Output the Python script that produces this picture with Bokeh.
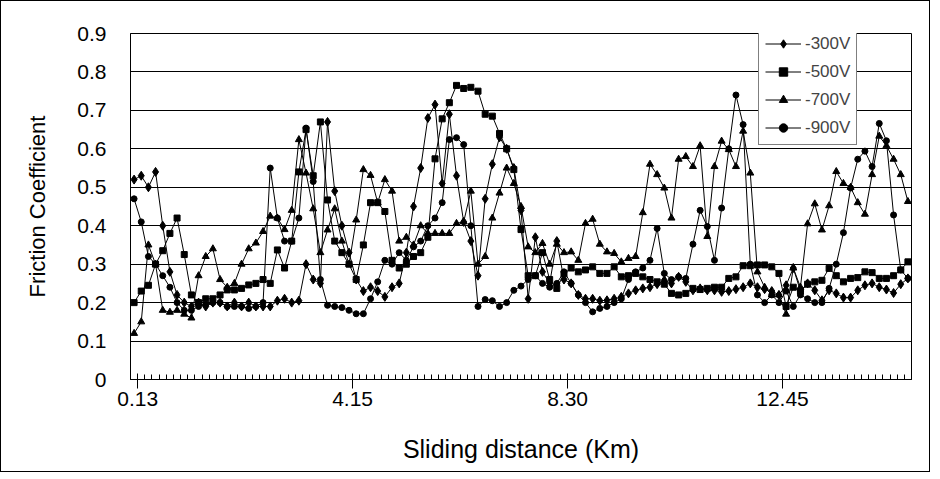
from bokeh.plotting import figure
from bokeh.models import Range1d, FixedTicker, Legend, LegendItem
from bokeh.embed import file_html
from bokeh.resources import INLINE

# ---- data (friction coefficient per sliding-distance step) ----
s300 = [0.52, 0.53, 0.50, 0.54, 0.40, 0.28, 0.22, 0.20, 0.19, 0.20,
        0.19, 0.20, 0.20, 0.19, 0.20, 0.19, 0.20, 0.19, 0.19, 0.19,
        0.205, 0.21, 0.20, 0.205, 0.30, 0.26, 0.25, 0.67, 0.49, 0.40,
        0.33, 0.26, 0.23, 0.24, 0.23, 0.215, 0.24, 0.25, 0.33, 0.45,
        0.55, 0.68, 0.715, 0.51, 0.69, 0.53, 0.41, 0.36, 0.27, 0.47,
        0.56, 0.63, 0.60, 0.55, 0.44, 0.21, 0.37, 0.28, 0.25, 0.36,
        0.26, 0.25, 0.22, 0.21, 0.21, 0.205, 0.206, 0.21, 0.215, 0.224,
        0.232, 0.237, 0.24, 0.248, 0.258, 0.25, 0.267, 0.254, 0.232, 0.237,
        0.232, 0.232, 0.228, 0.23, 0.235, 0.24, 0.25, 0.24, 0.235, 0.23,
        0.22, 0.245, 0.29, 0.23, 0.25, 0.232, 0.206, 0.232, 0.224, 0.213,
        0.213, 0.232, 0.245, 0.25, 0.24, 0.234, 0.225, 0.248, 0.263]

s500 = [0.20, 0.23, 0.245, 0.30, 0.335, 0.38, 0.42, 0.325, 0.22, 0.20,
        0.21, 0.21, 0.22, 0.233, 0.233, 0.237, 0.246, 0.25, 0.26, 0.25,
        0.337, 0.29, 0.36, 0.54, 0.65, 0.53, 0.67, 0.467, 0.36, 0.33,
        0.30, 0.26, 0.35, 0.46, 0.46, 0.437, 0.31, 0.29, 0.30, 0.32,
        0.33, 0.37, 0.574, 0.678, 0.72, 0.765, 0.757, 0.76, 0.75, 0.69,
        0.685, 0.64, 0.60, 0.546, 0.39, 0.27, 0.27, 0.33, 0.26, 0.237,
        0.275, 0.29, 0.28, 0.285, 0.293, 0.276, 0.276, 0.293, 0.267, 0.27,
        0.276, 0.267, 0.26, 0.254, 0.248, 0.224, 0.22, 0.224, 0.237, 0.234,
        0.237, 0.24, 0.24, 0.263, 0.267, 0.296, 0.296, 0.298, 0.298, 0.293,
        0.276, 0.19, 0.24, 0.23, 0.248, 0.254, 0.258, 0.289, 0.27, 0.254,
        0.263, 0.265, 0.28, 0.278, 0.263, 0.263, 0.27, 0.285, 0.306]

s700 = [0.12, 0.15, 0.35, 0.30, 0.18, 0.175, 0.18, 0.17, 0.16, 0.27,
        0.32, 0.34, 0.26, 0.24, 0.25, 0.30, 0.34, 0.355, 0.385, 0.425,
        0.42, 0.39, 0.44, 0.624, 0.537, 0.444, 0.33, 0.389, 0.444, 0.36,
        0.30, 0.415, 0.546, 0.531, 0.46, 0.52, 0.49, 0.36, 0.37, 0.35,
        0.40, 0.38, 0.38, 0.38, 0.38, 0.406, 0.41, 0.49, 0.30, 0.32,
        0.42, 0.485, 0.55, 0.51, 0.45, 0.345, 0.33, 0.354, 0.30, 0.352,
        0.33, 0.332, 0.31, 0.406, 0.417, 0.352, 0.332, 0.328, 0.306, 0.315,
        0.32, 0.434, 0.56, 0.533, 0.498, 0.42, 0.573, 0.58, 0.554, 0.608,
        0.372, 0.554, 0.62, 0.598, 0.554, 0.646, 0.537, 0.28, 0.24, 0.22,
        0.22, 0.17, 0.29, 0.24, 0.405, 0.457, 0.389, 0.452, 0.541, 0.51,
        0.50, 0.46, 0.43, 0.533, 0.633, 0.608, 0.573, 0.533, 0.463]

s900 = [0.47, 0.41, 0.32, 0.30, 0.27, 0.24, 0.20, 0.18, 0.18, 0.19,
        0.195, 0.20, 0.20, 0.19, 0.19, 0.19, 0.185, 0.19, 0.20, 0.55,
        0.42, 0.36, 0.36, 0.42, 0.654, 0.515, 0.26, 0.193, 0.19, 0.187,
        0.18, 0.171, 0.171, 0.21, 0.254, 0.31, 0.30, 0.33, 0.31, 0.345,
        0.36, 0.40, 0.42, 0.46, 0.624, 0.629, 0.611, 0.40, 0.19, 0.208,
        0.205, 0.19, 0.20, 0.232, 0.243, 0.26, 0.27, 0.25, 0.24, 0.25,
        0.28, 0.25, 0.22, 0.20, 0.176, 0.185, 0.19, 0.20, 0.21, 0.26,
        0.28, 0.29, 0.31, 0.393, 0.276, 0.26, 0.267, 0.263, 0.352, 0.44,
        0.398, 0.31, 0.446, 0.60, 0.74, 0.663, 0.30, 0.22, 0.20, 0.22,
        0.20, 0.23, 0.19, 0.22, 0.21, 0.20, 0.20, 0.237, 0.30, 0.382,
        0.498, 0.573, 0.594, 0.554, 0.666, 0.621, 0.428, 0.285, 0.263]

series_names = ["-300V", "-500V", "-700V", "-900V"]
x_tick_labels = ["0.13", "4.15", "8.30", "12.45"]
label_every = 30
y_ticks = [0, 0.1, 0.2, 0.3, 0.4, 0.5, 0.6, 0.7, 0.8, 0.9]
y_tick_labels = ["0", "0.1", "0.2", "0.3", "0.4", "0.5", "0.6", "0.7", "0.8", "0.9"]

n = len(s300)
xs = list(range(n))

FONT = "Liberation Sans"

p = figure(width=930, height=472, output_backend="svg", toolbar_location=None,
           x_range=Range1d(-0.5, n - 0.5), y_range=Range1d(0, 0.9),
           min_border_left=129, min_border_right=20, min_border_top=32,
           min_border_bottom=94)
p.styles = {"border": "1px solid black"}
p.background_fill_color = "white"
p.border_fill_color = "white"
p.outline_line_color = "black"
p.outline_line_width = 1

# y axis
p.yaxis.ticker = FixedTicker(ticks=y_ticks)
p.yaxis.major_label_overrides = dict(zip(y_ticks, y_tick_labels))
p.yaxis.major_tick_out = 0
p.yaxis.major_tick_in = 0
p.yaxis.minor_tick_out = 0
p.yaxis.minor_tick_in = 0
p.yaxis.major_label_standoff = 24
p.yaxis.major_label_text_font = FONT
p.yaxis.major_label_text_font_size = "21px"
p.yaxis.major_label_text_color = "black"
p.yaxis.axis_label = "Friction Coefficient"
p.yaxis.axis_label_text_font = FONT
p.yaxis.axis_label_text_font_style = "normal"
p.yaxis.axis_label_text_font_size = "22px"
p.yaxis.axis_label_text_color = "black"
p.yaxis.axis_label_standoff = 24
p.yaxis.axis_line_color = "black"

p.ygrid.ticker = FixedTicker(ticks=y_ticks)
p.ygrid.grid_line_color = "black"
p.ygrid.grid_line_width = 1
p.xgrid.visible = False

# x axis (category axis)
major = [k * label_every + 0.5 for k in range(len(x_tick_labels))]
minor = [i + 0.5 for i in range(-1, n)]
p.xaxis.ticker = FixedTicker(ticks=major, minor_ticks=minor)
p.xaxis.major_label_overrides = dict(zip(major, x_tick_labels))
p.xaxis.major_tick_in = 6
p.xaxis.major_tick_out = 9
p.xaxis.minor_tick_in = 5
p.xaxis.minor_tick_out = 0
p.xaxis.major_label_standoff = 3
p.xaxis.major_label_text_font = FONT
p.xaxis.major_label_text_font_size = "21px"
p.xaxis.major_label_text_color = "black"
p.xaxis.axis_label = "Sliding distance (Km)"
p.xaxis.axis_label_text_font = FONT
p.xaxis.axis_label_text_font_style = "normal"
p.xaxis.axis_label_text_font_size = "25px"
p.xaxis.axis_label_text_color = "black"
p.xaxis.axis_label_standoff = 26
p.xaxis.axis_line_color = "black"

markers = ["diamond", "square", "triangle", "circle"]
sizes = [9, 6, 7, 6]
items = []
for name, ys, mk, sz in zip(series_names, [s300, s500, s700, s900], markers, sizes):
    r1 = p.line(xs, ys, line_color="black", line_width=1)
    r2 = p.scatter(xs, ys, marker=mk, size=sz, fill_color="black", line_color="black")
    items.append(LegendItem(label=name, renderers=[r1, r2]))

legend = Legend(items=items, location=(628, 234))
legend.border_line_color = "black"
legend.border_line_width = 1
legend.background_fill_color = "white"
legend.background_fill_alpha = 1
legend.padding = 6
legend.spacing = 7
legend.margin = 0
legend.glyph_width = 36
legend.glyph_height = 21
legend.label_height = 21
legend.label_standoff = 4
legend.label_text_font = FONT
legend.label_text_font_size = "17px"
p.add_layout(legend)

open("out.html", "w").write(file_html(p, INLINE))
